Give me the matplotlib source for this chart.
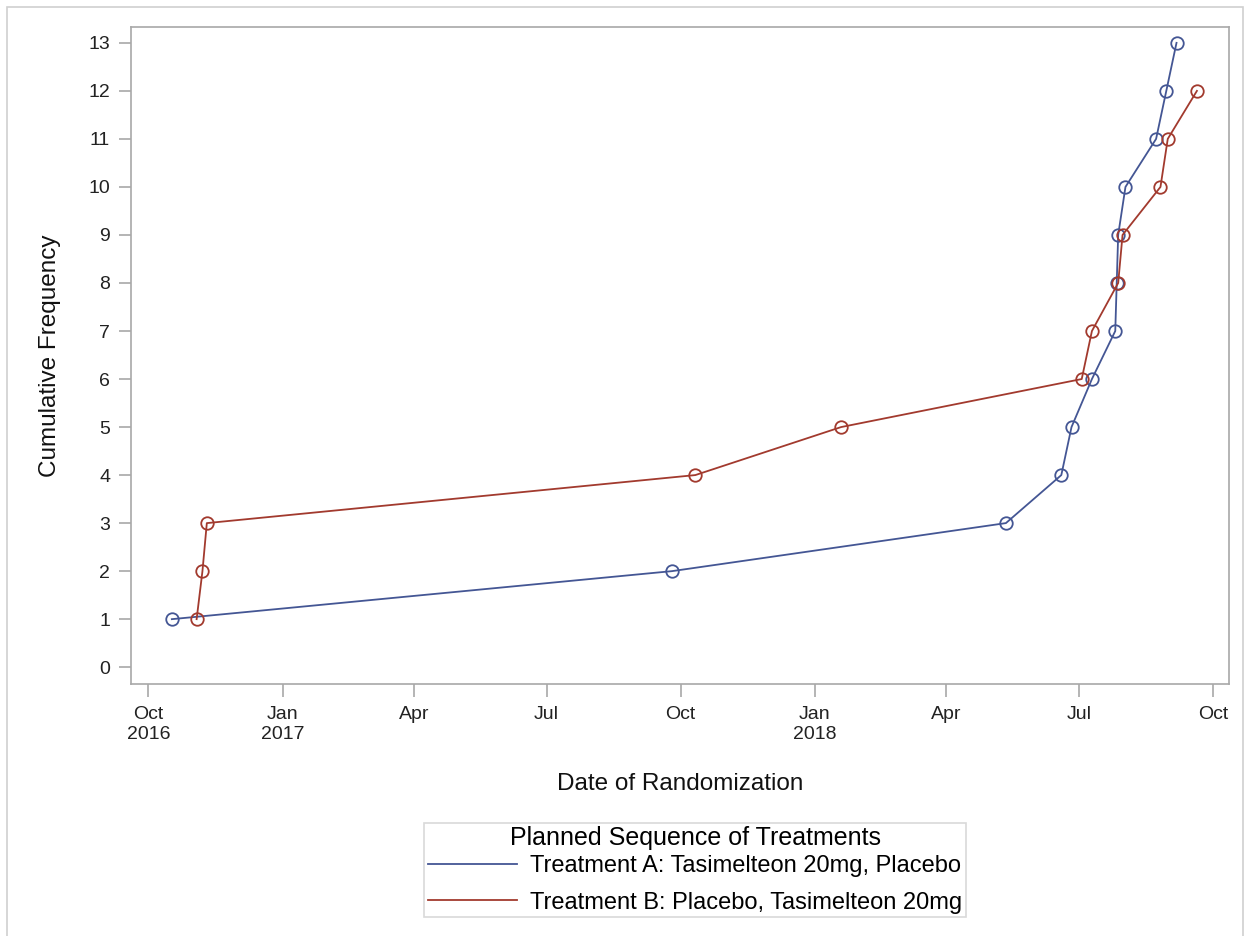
import matplotlib
matplotlib.use('Agg')
import matplotlib.pyplot as plt
import matplotlib.patches as mpatches
import pandas as pd

plt.rcParams['font.family'] = ['Liberation Sans', 'DejaVu Sans']

# ── DATA ──────────────────────────────────────────────────────────────────────
dates_a = ['2016-10-17', '2017-09-25', '2018-05-12', '2018-06-19', '2018-06-26',
           '2018-07-10', '2018-07-26', '2018-07-27', '2018-07-28', '2018-08-02',
           '2018-08-23', '2018-08-30', '2018-09-06']
cum_a = [1, 2, 3, 4, 5, 6, 7, 8, 9, 10, 11, 12, 13]

dates_b = ['2016-11-03', '2016-11-07', '2016-11-10', '2017-10-11', '2018-01-19',
           '2018-07-03', '2018-07-10', '2018-07-28', '2018-07-31', '2018-08-26',
           '2018-08-31', '2018-09-20']
cum_b = [1, 2, 3, 4, 5, 6, 7, 8, 9, 10, 11, 12]

label_a = 'Treatment A: Tasimelteon 20mg, Placebo'
label_b = 'Treatment B: Placebo, Tasimelteon 20mg'

tick_dates = ['2016-10-01', '2017-01-01', '2017-04-01', '2017-07-01', '2017-10-01',
              '2018-01-01', '2018-04-01', '2018-07-01', '2018-10-01']
tick_labels = ['Oct\n2016', 'Jan\n2017', 'Apr', 'Jul', 'Oct',
               'Jan\n2018', 'Apr', 'Jul', 'Oct']

BLUE = '#445694'
RED = '#A23A2E'
FRAME = '#A8A8A8'
TXT = '#222222'

# ── CHART ─────────────────────────────────────────────────────────────────────
fig = plt.figure(figsize=(12.5, 9.36), dpi=100)
fig.patch.set_facecolor('white')

# outer graph border
fig.add_artist(mpatches.Rectangle((7 / 1250, -0.01), 1236 / 1250, 1 - 7 / 936 + 0.01,
                                  transform=fig.transFigure, fill=False,
                                  edgecolor='#D0D0D0', linewidth=1.2))

ax = fig.add_axes([131 / 1250, 1 - 684 / 936, 1098 / 1250, 657 / 936])

for d, c, col, lab in [(dates_a, cum_a, BLUE, label_a), (dates_b, cum_b, RED, label_b)]:
    ax.plot(pd.to_datetime(d), c, color=col, linewidth=1.3, marker='o',
            markersize=9, markerfacecolor='none', markeredgecolor=col,
            markeredgewidth=1.3, label=lab)

ax.set_xlim(pd.Timestamp('2016-09-19'), pd.Timestamp('2018-10-12'))
ax.set_ylim(-0.35, 13.33)

ax.set_xticks(pd.to_datetime(tick_dates))
ax.set_xticklabels(tick_labels, fontsize=14, color=TXT, linespacing=1.2)
ax.set_yticks(range(0, 14))
ax.tick_params(axis='y', labelsize=14, colors=TXT, length=9, width=1.2,
               color=FRAME, pad=6)
ax.tick_params(axis='x', length=9, width=1.2, color=FRAME, pad=7)

for s in ax.spines.values():
    s.set_color(FRAME)
    s.set_linewidth(1.2)

ax.set_xlabel('Date of Randomization', fontsize=17.5, color='#111111', labelpad=22)
ax.set_ylabel('Cumulative Frequency', fontsize=17.5, color='#111111', labelpad=20)

leg = fig.legend(loc='center', bbox_to_anchor=(695 / 1250, 1 - 870 / 936),
                 title='Planned Sequence of Treatments', fontsize=17,
                 title_fontsize=18, handlelength=3.8, handletextpad=0.55,
                 frameon=True, fancybox=False, edgecolor='#D0D0D0',
                 borderpad=0.15, labelspacing=0.6, borderaxespad=0)
leg.get_frame().set_linewidth(1.2)
leg._legend_box.sep = 3.7  # tighter gap between title and entries
for h in leg.legend_handles:
    h.set_marker('')

fig.savefig('out.png', dpi=100, facecolor='white')
